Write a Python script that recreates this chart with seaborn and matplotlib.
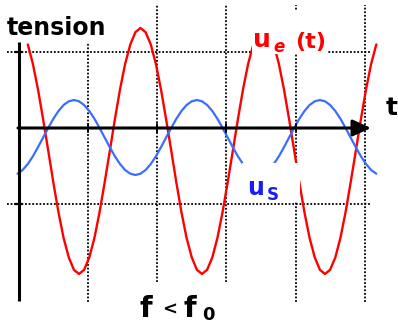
#!/usr/bin/env python3

import pandas
import seaborn as sns
import matplotlib.pyplot as plt
from matplotlib.patches import Rectangle

# time axis (arbitrary units, origin on the vertical axis)
time = [
    -0.5, 4.6, 9.8, 14.9, 20.0, 25.1, 30.3, 35.4, 40.5, 45.6, 50.8, 55.9,
    61.0, 66.1, 71.3, 76.4, 81.5, 86.6, 91.8, 96.9, 102.0, 107.1, 112.3, 117.4,
    122.5, 127.6, 132.8, 137.9, 143.0, 148.1, 153.3, 158.4, 163.5, 168.6, 173.8, 178.9,
    184.0, 189.1, 194.3, 199.4, 204.5, 209.6, 214.8, 219.9, 225.0, 230.1, 235.3, 240.4,
    245.5, 250.6, 255.8, 260.9, 266.0, 271.1, 276.3, 281.4, 286.5, 291.6, 296.8, 301.9,
    307.0, 312.1, 317.3, 322.4, 327.5, 332.6, 337.8, 342.9, 348.0, 353.1, 358.3,
]

# input voltage u_e(t) (starts at the third time sample)
u_e = [
    83.5, 64.0, 38.5, 8.8, -23.0, -54.8, -84.5, -110.0, -129.5, -141.8,
    -146.0, -141.8, -129.5, -110.0, -84.5, -54.8, -23.0, 8.8, 38.5, 64.0,
    83.5, 95.8, 100.0,
    95.8, 83.5, 64.0, 38.5, 8.8, -23.0, -54.8, -84.5, -110.0, -129.5, -141.8, -146.0,
    -141.8, -129.5, -110.0, -84.5, -54.8, -23.0, 8.8, 38.5, 64.0, 83.5, 95.8, 100.0,
    95.8, 83.5, 64.0, 38.5, 8.8, -23.0, -54.8, -84.5, -110.0, -129.5, -141.8, -146.0,
    -141.8, -129.5, -110.0, -84.5, -54.8, -23.0, 8.8, 38.5, 64.0, 83.5,
]

# output voltage u_S(t)
u_s = [
    -45.7, -42.0, -36.0, -28.3, -19.2, -9.5, 0.2, 9.3, 17.0, 23.0, 26.7, 28.0,
    26.7, 23.0, 17.0, 9.3, 0.2, -9.5, -19.2, -28.3, -36.0, -42.0, -45.7, -47.0,
    -45.7, -42.0, -36.0, -28.3, -19.2, -9.5, 0.2, 9.3, 17.0, 23.0, 26.7, 28.0,
    26.7, 23.0, 17.0, 9.3, 0.2, -9.5, -19.2, -28.3, -36.0, -42.0, -45.7, -47.0,
    -45.7, -42.0, -36.0, -28.3, -19.2, -9.5, 0.2, 9.3, 17.0, 23.0, 26.7, 28.0,
    26.7, 23.0, 17.0, 9.3, 0.2, -9.5, -19.2, -28.3, -36.0, -42.0, -45.7,
]

# dotted guide lines
grid_levels = [76, -76]
grid_times = [70, 139, 208, 278, 347]
grid_bottoms = [-174, -154, -154, -174, -174]
grid_tops = [86, 123, 123, 123, 123]

RED = "#ff0000"
BLUE = "#3a6eff"
DOT = (0, (1, 1))

sns.set_theme(style="white")
plt.rcParams["font.family"] = ["DejaVu Sans"]

fig = plt.figure(figsize=(3.98, 3.29), dpi=100)
ax = fig.add_axes([0, 0, 1, 1])

# dotted grid
for level in grid_levels:
    ax.plot([-11, 352], [level, level], color="black", lw=1.3, ls=DOT, zorder=1)
for t, lo, hi in zip(grid_times, grid_bottoms, grid_tops):
    ax.plot([t, t], [lo, hi], color="black", lw=1.3, ls=DOT, zorder=1)

# curves
df_e = pandas.DataFrame({"t": time[2:], "u": u_e})
df_s = pandas.DataFrame({"t": time, "u": u_s})
sns.lineplot(data=df_e, x="t", y="u", ax=ax, color=RED, linewidth=1.7, zorder=2)
sns.lineplot(data=df_s, x="t", y="u", ax=ax, color=BLUE, linewidth=1.6, zorder=2)
ax.set_xlim(-18, 380)
ax.set_ylim(-201, 128)
ax.axis("off")

# axes
ax.plot([0.5, 0.5], [-173, 86], color="black", lw=2.2, zorder=3, solid_capstyle="butt")
ax.annotate("", xy=(353, 0), xytext=(0, 0),
            arrowprops=dict(arrowstyle="-|>,head_length=0.55,head_width=0.25",
                            color="black", lw=2.2, shrinkA=0, shrinkB=0,
                            mutation_scale=20), zorder=3)
for level in grid_levels:
    ax.plot([-3, 4], [level, level], color="black", lw=1.6, zorder=3)
for t in grid_times[:4]:
    ax.plot([t, t], [-4, 4], color="black", lw=1.4, zorder=3)

# white boxes behind the labels
ax.add_patch(Rectangle((234, 74), 76, 43, facecolor="white", edgecolor="none", zorder=4))
ax.add_patch(Rectangle((224, -74), 58, 39, facecolor="white", edgecolor="none", zorder=4))

# labels
bold = dict(fontweight="bold", zorder=5)
ax.text(-11, 93, "tension", fontsize=17, color="black", **bold)
ax.text(235, 81, "u", fontsize=18, color=RED, **bold)
ax.text(255, 76, "e", fontsize=12, style="italic", color=RED, **bold)
ax.text(277, 80, "(t)", fontsize=16, color=RED, **bold)
ax.text(229, -67, "u", fontsize=17, color="#1a1aff", **bold)
ax.text(249, -72, "S", fontsize=12, color="#1a1aff", **bold)
ax.text(368, 13, "t", fontsize=18, color="black", **bold)
ax.text(122, -189, "f", fontsize=21, color="black", **bold)
ax.text(144, -187, "<", fontsize=13, color="black", **bold)
ax.text(165, -189, "f", fontsize=21, color="black", **bold)
ax.text(184, -192, "0", fontsize=13, color="black", **bold)

fig.savefig("out.png", dpi=100)
